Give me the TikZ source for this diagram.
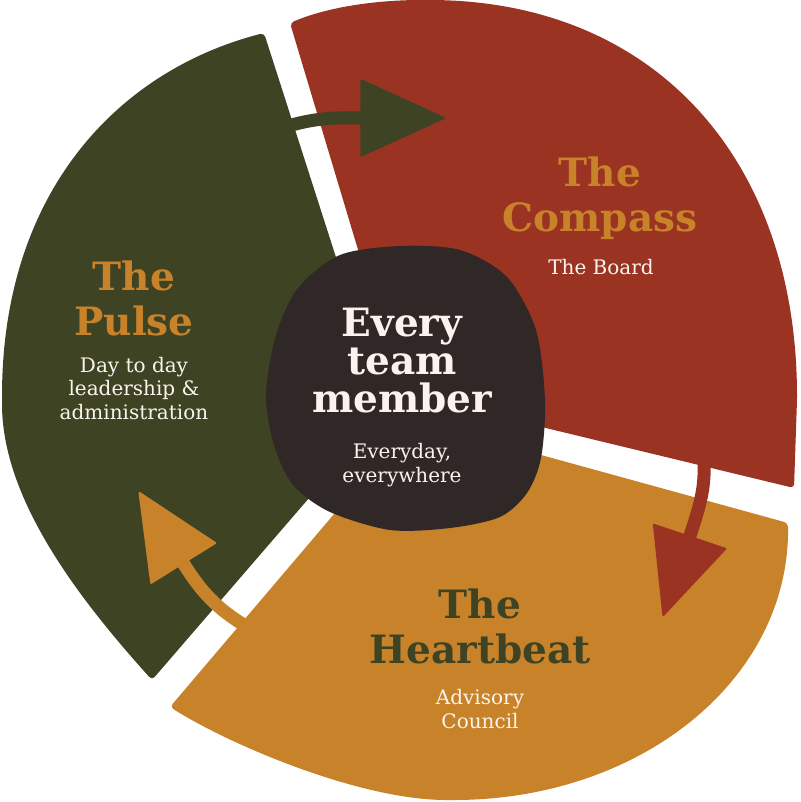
\documentclass[tikz,border=0pt]{standalone}
\usepackage{fontspec}
\setmainfont{DejaVu Serif}
\usetikzlibrary{arrows.meta}
\definecolor{pulsegreen}{RGB}{62,67,36}
\definecolor{compassred}{RGB}{155,51,35}
\definecolor{beatorange}{RGB}{200,131,42}
\definecolor{coredark}{RGB}{48,40,38}
\definecolor{cream}{RGB}{251,244,238}

\begin{document}
\begin{tikzpicture}[x=1pt,y=-1pt,
    title/.style={font=\bfseries\fontsize{39}{45}\selectfont,align=center,inner sep=0pt},
    sub/.style={font=\fontsize{20}{23.5}\selectfont,align=center,text=cream,inner sep=0pt},
    flow/.style={line width=13pt,-{Triangle[width=78pt,length=86pt,line width=2pt,round]}}]
    \useasboundingbox (0,0) rectangle (800,802);

    \fill[pulsegreen,rounded corners=4pt](385,410)--(264,33)..controls(120,70)and(2,190)..(2,400)
        ..controls(2,500)and(80,600)..(152,680)--cycle;
    \fill[compassred,rounded corners=4pt](401,393)--(290,23)..controls(330,6)and(380,0)..(425,0)
        ..controls(655,0)and(797,160)..(797,400)--(794,488)--cycle;
    \fill[beatorange,rounded corners=4pt](414,420)--(788,523)..controls(790,680)and(640,800)..(450,800)
        ..controls(360,800)and(230,745)..(170,707)--cycle;

    \coordinate(g1)at(285,127);
    \coordinate(g2)at(445,118);
    \coordinate(r1)at(704,460);
    \coordinate(r2)at(663,616);
    \coordinate(o1)at(252,630);
    \coordinate(o2)at(139,492);
    \draw[flow,pulsegreen](g1)..controls(320,116)and(345,118)..(g2);
    \draw[flow,compassred](r1)..controls(705,485)and(702,500)..(r2);
    \draw[flow,beatorange](o1)..controls(222,612)and(205,598)..(o2);

    \fill[coredark]plot[smooth cycle]coordinates{(266,395)(274,445)(293,485)(330,512)(390,530)(450,528)(500,517)(527,493)(541,458)(545,400)(536,330)(507,277)(460,250)(400,246)(340,255)(298,288)(276,335)};

    \node[title,text=beatorange](pulse)at(134,298){The\\Pulse};
    \node[sub,anchor=north](pulsesub)at(134,357){Day to day\\leadership \&\\administration};
    \node[title,text=beatorange](compass)at(600,198){The\\Compass};
    \node[sub](compasssub)at(601,267){The Board};
    \node[title,text=cream,font=\bfseries\fontsize{39}{38}\selectfont](team)at(402,361){Every\\team\\member};
    \node[sub](teamsub)at(402,465){Everyday,\\everywhere};
    \node[title,text=pulsegreen](heart)at(480,626){The\\Heartbeat};
    \node[sub](heartsub)at(480,709){Advisory\\Council};
\end{tikzpicture}
\end{document}
